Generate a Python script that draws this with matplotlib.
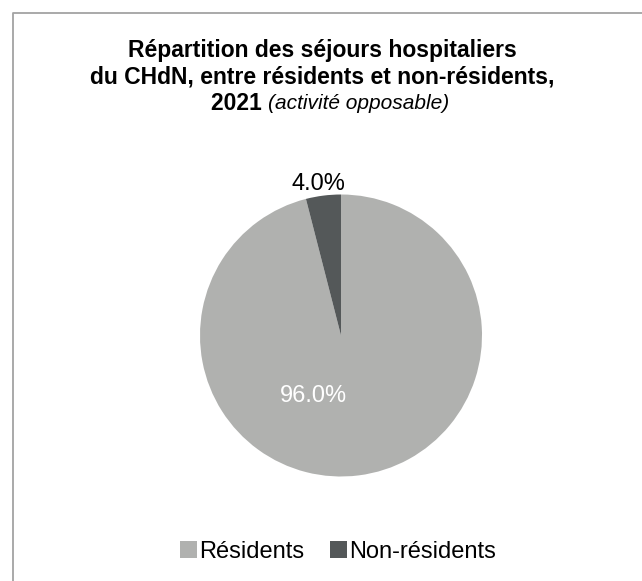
import matplotlib
matplotlib.use("Agg")
import matplotlib.pyplot as plt
from matplotlib.lines import Line2D
from matplotlib.patches import Patch

plt.rcParams['font.family'] = ['Liberation Sans', 'DejaVu Sans']

categories = ["Résidents", "Non-résidents"]
values = [96.0, 4.0]
colors = ["#b0b1af", "#545859"]
title_lines = ["Répartition des séjours hospitaliers",
               "du CHdN, entre résidents et non-résidents,"]
title_year = "2021"
title_note = "(activité opposable)"

W, H = 642, 581
fig = plt.figure(figsize=(W / 100, H / 100), dpi=100)

# frame lines (left and top)
fig.add_artist(Line2D([12.5 / W, 12.5 / W, 1], [0, 1 - 12.5 / H, 1 - 12.5 / H],
                      transform=fig.transFigure, color="#a3a3a3", lw=1.3))

# title
TS = 16.5
fig.text(322 / W, 1 - 50 / H, title_lines[0], ha="center", va="center",
         fontsize=TS, fontweight="bold")
fig.text(322 / W, 1 - 77 / H, title_lines[1], ha="center", va="center",
         fontsize=TS, fontweight="bold")
t1 = fig.text(323 / W, 1 - 104 / H, title_year + " ", ha="right", va="center",
              fontsize=TS, fontweight="bold")
fig.canvas.draw()
bb = t1.get_window_extent()
w_year = bb.width
t2 = fig.text(0, 1 - 104 / H, title_note, ha="left", va="center",
              fontsize=15, fontstyle="italic")
bb2 = t2.get_window_extent()
total = w_year + bb2.width
x0 = 330 - total / 2
t1.set_position(((x0 + w_year) / W, 1 - 104 / H))
t2.set_position(((x0 + w_year) / W, 1 - 104 / H))

# pie
cx, cy, r = 341, 335.5, 141
ax = fig.add_axes([(cx - r) / W, (H - cy - r) / H, 2 * r / W, 2 * r / H])
wedges, _ = ax.pie(values, colors=colors, startangle=90, counterclock=False,
                   radius=1, wedgeprops=dict(linewidth=0))
ax.set_xlim(-1, 1)
ax.set_ylim(-1, 1)
ax.set_aspect("auto")
ax.axis("off")

ax.text(-28 / r, -60 / r, f"{values[0]:.1f}%", ha="center", va="center",
        fontsize=17, color="white")
ax.text(-23 / r, 152 / r, f"{values[1]:.1f}%", ha="center", va="center",
        fontsize=17, color="black")

handles = [Patch(facecolor=c, edgecolor="none") for c in colors]
fig.legend(handles, categories, loc="center", bbox_to_anchor=(338 / W, 1 - 552 / H),
           ncol=2, frameon=False, fontsize=17, handlelength=0.7, handleheight=0.7,
           handletextpad=0.1, columnspacing=1.1)

fig.savefig("out.png", dpi=100)
